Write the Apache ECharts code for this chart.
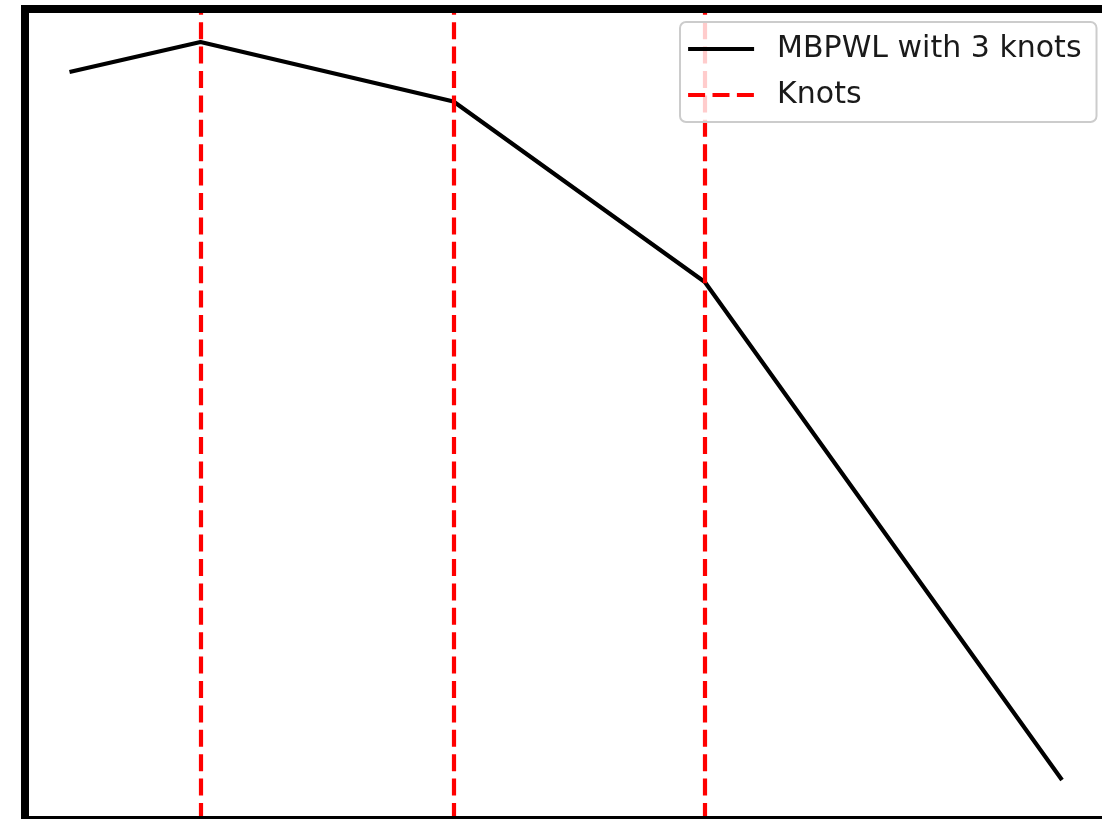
<!DOCTYPE html>
<html>
<head>
<meta charset="utf-8">
<script src="https://cdn.jsdelivr.net/npm/echarts@6/dist/echarts.min.js"></script>
<style>
  html, body { margin: 0; padding: 0; background: #fff; }
  #chart { width: 1102px; height: 819px; }
</style>
</head>
<body>
<div id="chart"></div>
<script>
// Data (arbitrary units)
const xValues = [0, 1.320, 3.869, 6.401, 10];
const yValues = [9.593, 10.0, 9.194, 6.748, 0];
const knots = [1.320, 3.869, 6.401];
const seriesNames = ['MBPWL with 3 knots', 'Knots'];

// Axis view ranges (matplotlib-like margins)
const xRange = [-0.4484, 10.685];
const yRange = [-0.542, 10.447];

const chart = echarts.init(document.getElementById('chart'), null, { renderer: 'canvas' });

const lineData = xValues.map((x, i) => [x, yValues[i]]);
const dash = [17, 7.4];
const lw = 4.2;

const option = {
  backgroundColor: '#ffffff',
  animation: false,
  grid: {
    left: 25, top: 9, width: 1105, height: 811,
    outerBoundsMode: 'none',
    containLabel: false,
    show: true,
    borderColor: '#000000',
    borderWidth: 8,
    backgroundColor: 'transparent',
    z: 10
  },
  xAxis: {
    type: 'value', min: xRange[0], max: xRange[1],
    axisLine: { show: false }, axisTick: { show: false },
    axisLabel: { show: false }, splitLine: { show: false }
  },
  yAxis: {
    type: 'value', min: yRange[0], max: yRange[1],
    axisLine: { show: false }, axisTick: { show: false },
    axisLabel: { show: false }, splitLine: { show: false }
  },
  legend: {
    left: 680, top: 22,
    orient: 'vertical',
    data: [
      { name: seriesNames[0], lineStyle: { color: '#000000', width: lw, type: 'solid' } },
      { name: seriesNames[1], lineStyle: { color: '#ff0000', width: lw, type: dash } }
    ],
    backgroundColor: 'rgba(255,255,255,0.8)',
    borderColor: '#cccccc',
    borderWidth: 2,
    borderRadius: 6,
    padding: [12, 15, 12, 6],
    itemWidth: 66,
    itemHeight: 30,
    itemGap: 16,
    itemStyle: { opacity: 0 },
    lineStyle: { width: lw },
    z: 20,
    textStyle: {
      fontFamily: 'DejaVu Sans',
      fontSize: 30,
      color: '#1a1a1a',
      lineHeight: 30,
      padding: [0, 0, 0, 18]
    }
  },
  series: [
    {
      name: seriesNames[0],
      type: 'line',
      data: lineData,
      symbol: 'none',
      lineStyle: { color: '#000000', width: lw, join: 'round' },
      itemStyle: { color: '#000000' },
      z: 3
    },
    {
      name: seriesNames[1],
      type: 'line',
      data: [],
      symbol: 'none',
      lineStyle: { color: '#ff0000', width: lw, type: dash },
      itemStyle: { color: '#ff0000' },
      z: 2,
      markLine: {
        silent: true,
        symbol: ['none', 'none'],
        label: { show: false },
        lineStyle: { color: '#ff0000', width: lw, type: dash },
        data: knots.map(k => ({ xAxis: k }))
      }
    }
  ]
};

chart.setOption(option);
</script>
</body>
</html>
